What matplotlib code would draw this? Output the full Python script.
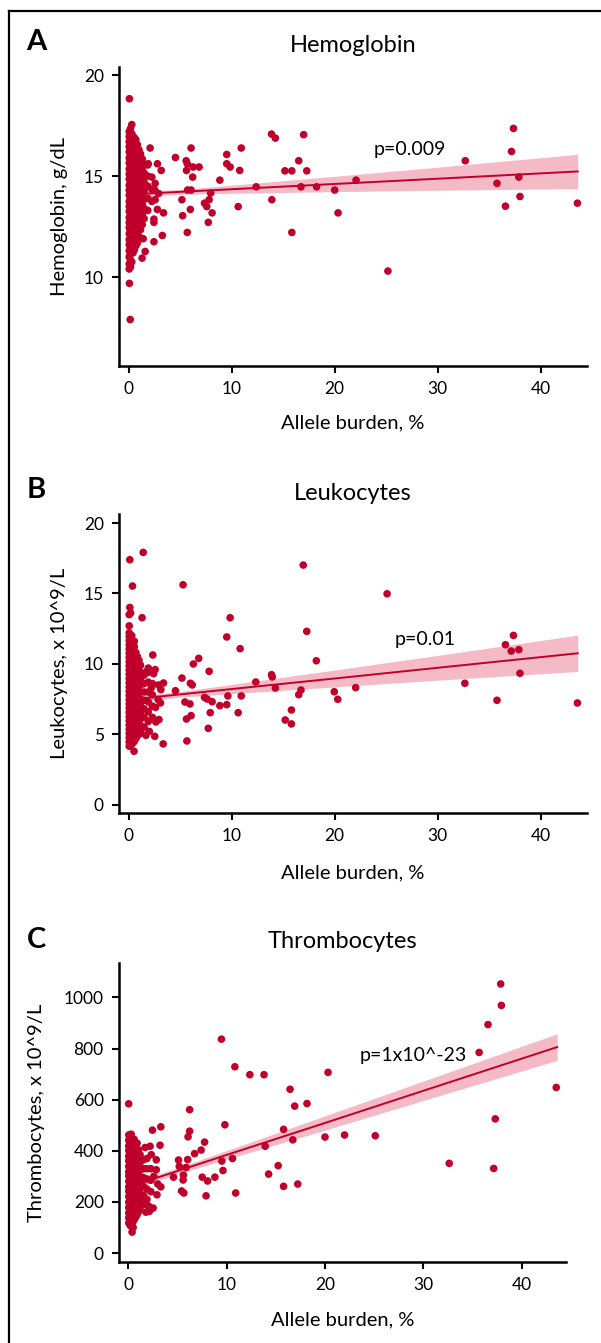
import matplotlib
matplotlib.use("Agg")
import matplotlib.pyplot as plt
from matplotlib.lines import Line2D

plt.rcParams['font.family'] = ['Lato', 'DejaVu Sans']

W, H = 601, 1343
RED = '#C0002A'
BAND = '#F4BAC6'

# ---------------- data ----------------
x_ticks = [0, 10, 20, 30, 40]

# Panel A: hemoglobin
hgb_col_x = [0.05, 0.17, 0.30, 0.42, 0.55, 0.70, 0.85, 1.00, 1.15, 1.32, 1.50, 1.85, 2.25]
hgb_col_y = [
    [10.4, 10.65, 11.0, 11.3, 11.6, 11.85, 12.15, 12.45, 12.7, 12.95, 13.25, 13.5, 13.75, 14.05,
     14.3, 14.55, 14.85, 15.1, 15.35, 15.65, 15.9, 16.2, 16.45, 16.7, 16.95, 17.2],
    [10.5, 10.85, 11.15, 11.45, 11.7, 12.0, 12.3, 12.55, 12.85, 13.1, 13.4, 13.6, 13.9, 14.2, 14.45,
     14.7, 15.0, 15.25, 15.5, 15.8, 16.05, 16.35, 16.6, 16.85, 17.1, 17.35],
    [10.75, 11.45, 11.75, 12.0, 12.3, 12.6, 12.85, 13.1, 13.4, 13.65, 13.9, 14.2, 14.45, 14.7,
     15.0, 15.25, 15.5, 15.8, 16.05, 16.3, 16.6, 16.85, 17.1, 17.55],
    [11.2, 11.55, 11.85, 12.15, 12.4, 12.7, 12.95, 13.25, 13.5, 13.8, 14.05, 14.35, 14.6, 14.9,
     15.2, 15.45, 15.75, 16.0, 16.3, 16.6, 16.95],
    [11.35, 11.65, 11.95, 12.25, 12.55, 12.8, 13.1, 13.35, 13.65, 13.95, 14.2, 14.5, 14.8, 15.05,
     15.35, 15.6, 15.9, 16.2, 16.5, 16.9],
    [11.55, 11.95, 12.4, 12.7, 13.0, 13.3, 13.6, 13.95, 14.25, 14.6, 14.9, 15.2, 15.55, 15.85,
     16.15, 16.45, 16.8],
    [11.7, 12.2, 12.6, 12.9, 13.25, 13.6, 13.9, 14.25, 14.55, 14.85, 15.15, 15.5, 15.85, 16.2, 16.55],
    [12.0, 12.5, 12.95, 13.35, 13.75, 14.1, 14.45, 14.8, 15.2, 15.55, 15.95, 16.3],
    [12.35, 12.8, 13.2, 13.55, 13.9, 14.3, 14.65, 15.0, 15.4, 15.75, 16.1],
    [12.6, 13.1, 13.6, 14.05, 14.5, 14.95, 15.4, 15.85],
    [12.9, 13.4, 13.85, 14.25, 14.7, 15.15, 15.6],
    [13.3, 13.9, 14.5, 15.0, 15.55],
    [13.75, 14.35, 14.95],
]
hgb_burden = [0.07, 0.15, 0.07, 2.08, 2.79, 1.9, 3.16, 2.57, 2.53, 2.57, 2.9, 2.79, 3.38, 2.45, 2.45,
              3.27, 2.45, 1.41, 1.6, 1.3, 1.12, 1.23,
              25.17, 43.57, 37.36, 37.17, 32.68, 35.76, 37.88, 36.58, 37.99, 13.87, 14.24, 16.99,
              16.51, 15.17, 15.84, 17.29, 16.73, 18.25, 20.0, 22.08, 20.33, 15.84, 13.9, 12.38,
              10.93, 10.78, 10.63, 9.52, 9.52, 9.85, 8.85, 7.96, 7.81, 7.36, 7.58, 8.1, 7.73,
              6.06, 5.58, 5.69, 5.61, 6.25, 6.84, 6.21, 4.54, 5.72, 6.06, 5.17, 5.99, 5.24, 5.69]
hgb_level = [18.83, 7.9, 9.69, 16.39, 15.61, 15.61, 15.28, 14.64, 14.31, 13.83, 14.14, 13.35, 13.18,
             12.87, 12.71, 12.06, 11.75, 11.9, 11.27, 10.94, 15.91, 15.28,
             10.3, 13.66, 17.36, 16.22, 15.76, 14.64, 14.95, 13.51, 13.99, 17.08, 16.88, 17.05,
             15.76, 15.26, 15.26, 15.26, 14.47, 14.47, 14.31, 14.8, 13.18, 12.21, 13.83, 14.47,
             16.39, 15.28, 13.49, 16.07, 15.61, 15.45, 14.8, 14.16, 13.83, 13.66, 13.49, 13.18, 12.71,
             16.39, 15.76, 15.61, 15.28, 15.45, 15.45, 14.95, 15.92, 14.31, 14.31, 13.83, 13.35, 13.04, 12.21]
hgb_fit_x = [0, 5, 10, 20, 30, 43.6]
hgb_fit = [14.09, 14.22, 14.35, 14.61, 14.87, 15.23]
hgb_lo = [13.96, 14.10, 14.15, 14.23, 14.30, 14.38]
hgb_hi = [14.22, 14.34, 14.55, 14.99, 15.44, 16.08]

# Panel B: leukocytes
wbc_col_x = [0.05, 0.17, 0.30, 0.42, 0.55, 0.70, 0.85, 1.00, 1.15, 1.50, 1.90, 2.30]
wbc_col_y = [
    [4.15, 4.45, 4.75, 5.05, 5.35, 5.65, 5.95, 6.25, 6.55, 6.85, 7.15, 7.45, 7.75, 8.05, 8.35, 8.65,
     8.95, 9.25, 9.55, 9.85, 10.15, 10.45, 10.75, 11.05, 11.35, 11.65, 11.95, 12.2],
    [4.2, 4.55, 4.9, 5.2, 5.5, 5.8, 6.1, 6.4, 6.7, 7.0, 7.3, 7.6, 7.9, 8.2, 8.5, 8.8, 9.1, 9.4,
     9.7, 10.0, 10.3, 10.6, 10.9, 11.2, 11.5, 11.8, 12.05],
    [4.3, 4.6, 4.9, 5.2, 5.5, 5.8, 6.1, 6.4, 6.7, 7.0, 7.3, 7.6, 7.9, 8.2, 8.5, 8.8, 9.1, 9.4, 9.7,
     10.0, 10.3, 10.6, 10.9, 11.2, 11.55, 12.0],
    [4.4, 4.75, 5.05, 5.4, 5.7, 6.0, 6.3, 6.6, 6.9, 7.2, 7.5, 7.8, 8.1, 8.4, 8.7, 9.0, 9.3, 9.6,
     9.9, 10.2, 10.5, 10.8, 11.1, 11.4],
    [4.5, 4.85, 5.2, 5.55, 5.9, 6.25, 6.6, 6.95, 7.3, 7.65, 8.0, 8.35, 8.7, 9.05, 9.4, 9.75, 10.1,
     10.45, 10.8, 11.2, 11.6],
    [4.7, 5.1, 5.45, 5.8, 6.2, 6.55, 6.9, 7.25, 7.6, 7.95, 8.3, 8.65, 9.0, 9.35, 9.7, 10.05, 10.4, 10.8],
    [4.9, 5.3, 5.7, 6.1, 6.5, 6.9, 7.3, 7.7, 8.1, 8.5, 8.9, 9.3, 9.7, 10.1, 10.5],
    [5.0, 5.45, 5.9, 6.3, 6.75, 7.2, 7.6, 8.05, 8.5, 8.95, 9.35, 9.8, 10.25],
    [5.1, 5.6, 6.1, 6.6, 7.0, 7.5, 8.0, 8.5, 9.0, 9.4, 9.9],
    [5.5, 6.2, 6.8, 7.4, 8.0, 8.6, 9.2],
    [5.9, 6.6, 7.3, 8.0, 8.7, 9.4],
    [6.2, 7.0, 7.8, 8.6],
]
wbc_burden = [0.11, 1.41, 0.37, 0.11, 0.19, 0.05, 1.3, 0.05, 0.52,
              2.34, 2.57, 2.42, 1.71, 3.38, 3.12, 3.35, 2.53, 1.67, 2.64, 2.94, 3.09, 2.86, 2.2, 2.6,
              2.0, 2.9, 1.9,
              5.28, 16.95, 25.09, 9.85, 17.29, 9.52, 10.82, 18.22, 6.8, 6.28, 7.81, 5.17, 5.99, 6.17,
              4.54, 12.34, 13.87, 13.94, 14.24, 16.73, 16.51, 10.93, 9.63, 9.52, 8.85, 8.1, 7.36, 7.62,
              5.46, 5.95, 6.06, 5.61, 7.92, 7.73, 10.63, 15.8, 15.2, 15.8, 5.65, 19.96, 20.3, 22.04,
              32.64, 35.76, 43.57, 37.36, 36.58, 37.14, 37.88, 37.99]
wbc_count = [17.4, 17.92, 15.53, 14.01, 13.61, 13.5, 13.28, 12.7, 3.79,
             10.63, 9.59, 9.3, 9.42, 8.64, 8.17, 4.31, 4.85, 4.92, 5.87, 6.04, 7.22, 7.46, 8.3, 6.9,
             5.2, 8.5, 9.7,
             15.62, 17.02, 14.98, 13.28, 12.31, 11.91, 11.08, 10.22, 10.39, 9.99, 9.47, 8.99, 8.62, 8.5,
             8.09, 8.71, 9.23, 9.07, 8.28, 8.14, 7.81, 7.72, 7.72, 7.1, 7.03, 7.31, 7.62, 7.5,
             7.29, 7.15, 6.32, 6.08, 6.53, 5.42, 6.53, 6.72, 6.01, 5.73, 4.52, 8.02, 7.48, 8.31,
             8.62, 7.41, 7.22, 12.02, 11.36, 10.91, 11.01, 9.33]
wbc_fit_x = [0, 5, 10, 20, 30, 43.6]
wbc_fit = [7.45, 7.83, 8.21, 8.96, 9.72, 10.75]
wbc_lo = [7.23, 7.63, 7.88, 8.36, 8.84, 9.46]
wbc_hi = [7.67, 8.03, 8.54, 9.56, 10.60, 12.04]

# Panel C: thrombocytes
plt_col_x = [0.05, 0.17, 0.30, 0.45, 0.60, 0.75, 0.90, 1.05, 1.20, 1.55, 1.90, 2.30]
plt_col_y = [
    [118, 138, 157, 178, 199, 221, 242, 259, 281, 302, 318, 339, 361, 379, 401, 419, 441, 462],
    [110, 128, 147, 168, 188, 210, 231, 251, 270, 291, 310, 329, 350, 370, 390, 410, 430, 452],
    [105, 128, 150, 172, 195, 216, 238, 262, 284, 305, 327, 350, 372, 395, 418, 440, 465],
    [120, 142, 166, 190, 212, 235, 258, 281, 304, 328, 351, 374, 398, 422, 446],
    [130, 155, 180, 205, 228, 252, 276, 300, 324, 348, 372, 396, 420, 445],
    [140, 166, 192, 218, 244, 270, 296, 322, 348, 374, 400, 428],
    [150, 178, 205, 232, 260, 288, 315, 342, 370, 398, 430],
    [162, 192, 222, 252, 282, 312, 342, 372, 404],
    [175, 205, 235, 265, 295, 325, 355, 385],
    [190, 225, 260, 295, 330, 365],
    [210, 250, 290, 330, 370],
    [240, 285, 330],
]
plt_burden = [0.04, 0.39, 0.5,
              3.31, 2.46, 3.23, 2.22, 1.72, 2.34, 2.85, 2.85, 3.31, 2.92, 2.53, 2.14, 2.07, 0.7, 1.0,
              2.6, 3.0, 1.8,
              9.47, 10.84, 12.36, 13.8, 20.31, 16.45, 16.92, 18.17, 15.79, 16.73, 20.0, 21.99, 25.11,
              13.92, 14.27, 15.24, 15.79, 17.23, 10.92, 10.6, 9.82, 9.51, 9.63, 8.81, 8.07, 7.52, 7.91,
              7.76, 7.41, 6.74, 6.24, 6.24, 6.08, 6.04, 5.89, 5.61, 5.58, 5.65, 5.42, 5.11, 5.19, 4.6,
              35.67, 36.57, 37.86, 37.93, 43.51, 37.31, 37.15, 32.63]
plt_count = [584, 82, 100,
             494, 481, 422, 418, 413, 385, 365, 326, 259, 228, 176, 163, 184, 432, 400,
             300, 270, 160,
             837, 729, 698, 698, 707, 641, 575, 585, 484, 443, 454, 462, 459,
             418, 309, 342, 261, 270, 235, 370, 502, 360, 323, 297, 282, 297, 224,
             434, 403, 389, 561, 477, 455, 366, 335, 305, 286, 235, 243, 364, 339, 297,
             785, 894, 1053, 969, 648, 525, 331, 351]
plt_fit_x = [0, 5, 10, 20, 30, 43.6]
plt_fit = [258, 321, 384, 509, 635, 806]
plt_lo = [244, 309, 367, 481, 597, 754]
plt_hi = [272, 333, 401, 537, 673, 858]

# ---------------- figure ----------------
fig = plt.figure(figsize=(W / 100, H / 100), dpi=100)


def fx(px):
    return px / W


def fy(py):
    return 1 - py / H


def make_axes(left, right, top, bottom):
    return fig.add_axes([fx(left), fy(bottom), fx(right) - fx(left), fy(top) - fy(bottom)])


def expand(col_x, col_y):
    xs, ys = [], []
    for cx, cys in zip(col_x, col_y):
        xs += [cx] * len(cys)
        ys += cys
    return xs, ys


panels = [
    dict(left=119, right=587, top=67, bottom=366, ylim=(5.6, 20.4), yticks=[10, 15, 20],
         col=(hgb_col_x, hgb_col_y), pts=(hgb_burden, hgb_level),
         fit=(hgb_fit_x, hgb_fit, hgb_lo, hgb_hi),
         letter='A', letter_y=42, title='Hemoglobin', title_y=45,
         ylabel='Hemoglobin, g/dL', ylabel_x=59, p='p=0.009', p_xy=(410, 149),
         xlabel_y=423),
    dict(left=119, right=587, top=514, bottom=813, ylim=(-0.6, 20.65), yticks=[0, 5, 10, 15, 20],
         col=(wbc_col_x, wbc_col_y), pts=(wbc_burden, wbc_count),
         fit=(wbc_fit_x, wbc_fit, wbc_lo, wbc_hi),
         letter='B', letter_y=490, title='Leukocytes', title_y=493,
         ylabel='Leukocytes, x 10^9/L', ylabel_x=60, p='p=0.01', p_xy=(425, 639),
         xlabel_y=873),
    dict(left=119, right=566, top=963, bottom=1262, ylim=(-35, 1135),
         yticks=[0, 200, 400, 600, 800, 1000],
         col=(plt_col_x, plt_col_y), pts=(plt_burden, plt_count),
         fit=(plt_fit_x, plt_fit, plt_lo, plt_hi),
         letter='C', letter_y=940, title='Thrombocytes', title_y=942,
         ylabel='Thrombocytes, x 10^9/L', ylabel_x=37, p='p=1x10^-23', p_xy=(413, 1056),
         xlabel_y=1320),
]

for P in panels:
    ax = make_axes(P['left'], P['right'], P['top'], P['bottom'])
    fx_, fit, lo, hi = P['fit']
    ax.fill_between(fx_, lo, hi, color=BAND, lw=0, zorder=1)
    ax.plot(fx_, fit, color=RED, lw=1.4, zorder=2)
    cx, cy = expand(*P['col'])
    ax.scatter(cx, cy, s=30, color=RED, edgecolors='none', zorder=3)
    ax.scatter(P['pts'][0], P['pts'][1], s=30, color=RED, edgecolors='none', zorder=3)

    ax.set_xlim(-0.94, 44.5)
    ax.set_ylim(*P['ylim'])
    ax.set_xticks(x_ticks)
    ax.set_yticks(P['yticks'])
    for s in ['top', 'right']:
        ax.spines[s].set_visible(False)
    for s in ['left', 'bottom']:
        ax.spines[s].set_linewidth(1.8)
    ax.tick_params(direction='out', length=5, width=1.5, labelsize=12.5, pad=6, colors='black')

    cxm = (P['left'] + P['right']) / 2
    fig.text(fx(36), fy(P['letter_y']), P['letter'], fontsize=21, fontweight='bold',
             ha='center', va='center')
    fig.text(fx(cxm), fy(P['title_y']), P['title'], fontsize=17, ha='center', va='center')
    fig.text(fx(P['ylabel_x']), fy((P['top'] + P['bottom']) / 2), P['ylabel'], fontsize=14.5,
             rotation=90, ha='center', va='center')
    fig.text(fx(cxm), fy(P['xlabel_y']), 'Allele burden, %', fontsize=14.5,
             ha='center', va='center')
    fig.text(fx(P['p_xy'][0]), fy(P['p_xy'][1]), P['p'], fontsize=14, ha='center', va='center')

# outer frame (left and top edges)
fig.add_artist(Line2D([fx(9), fx(9)], [fy(11), 0], color='black', lw=1.6, transform=fig.transFigure))
fig.add_artist(Line2D([fx(9), 1], [fy(11), fy(11)], color='black', lw=1.6, transform=fig.transFigure))

fig.savefig('out.png', dpi=100)
